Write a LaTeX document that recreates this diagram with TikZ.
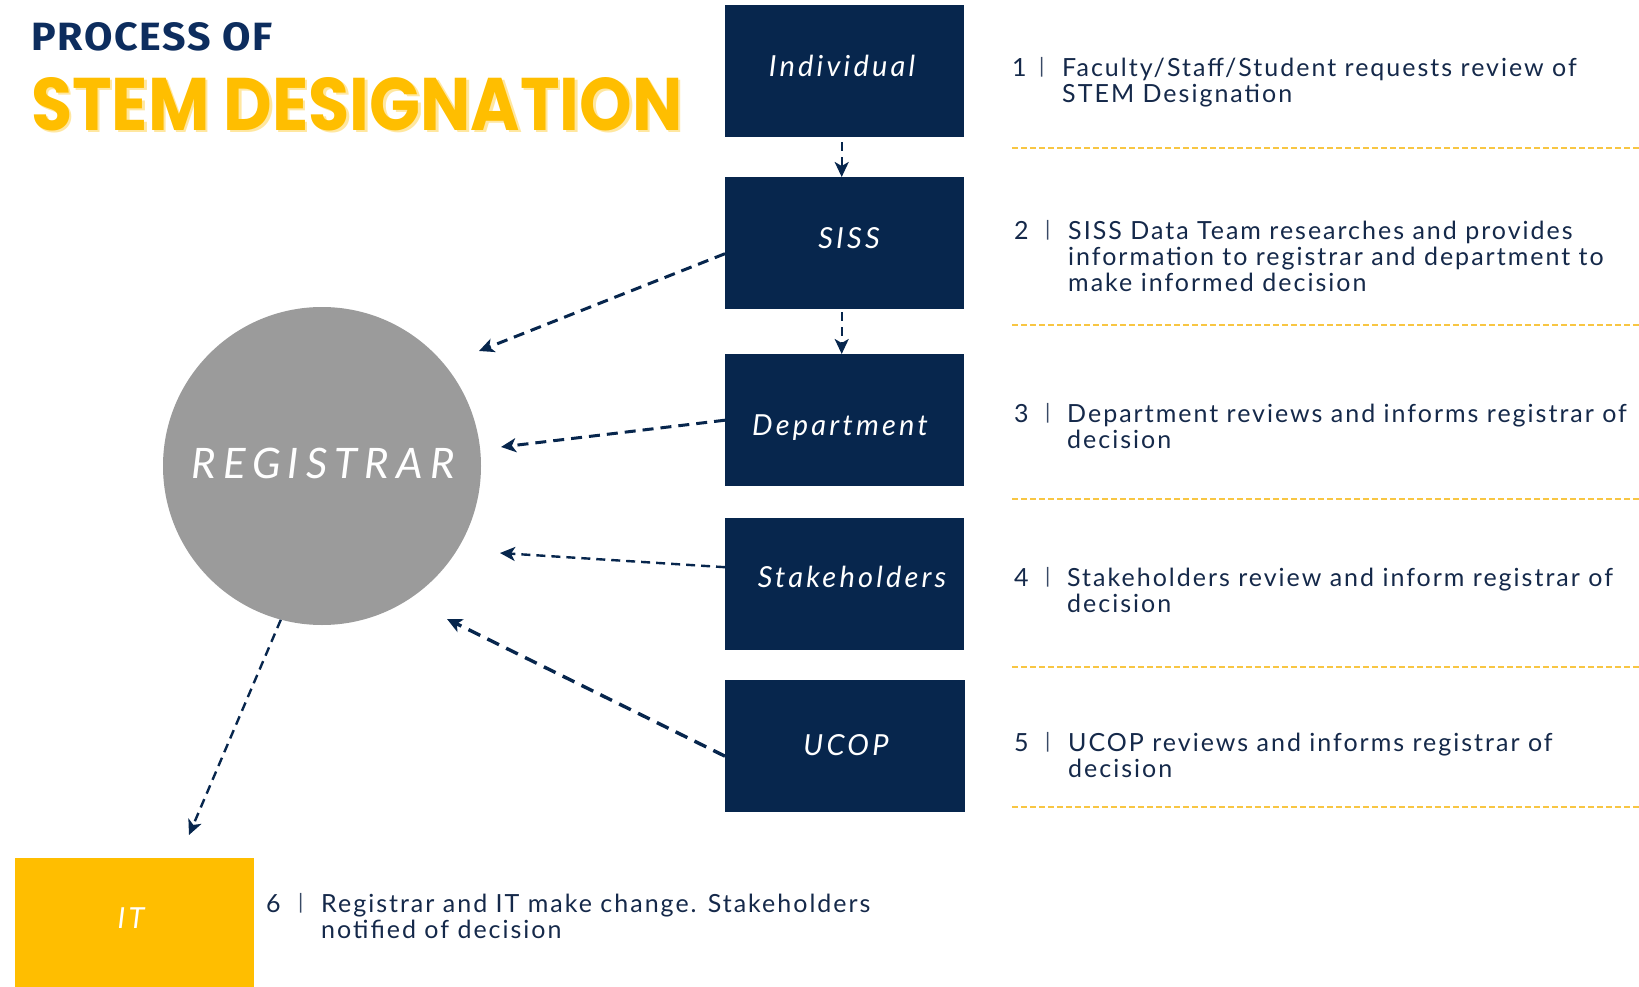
\documentclass[tikz,border=0pt]{standalone}
\usepackage{fontspec}
\usetikzlibrary{arrows.meta}
\setmainfont{Lato}
\newfontfamily\stepfont[LetterSpace=8]{Lato}
\newfontfamily\labelfont[LetterSpace=11]{Lato}
\newfontfamily\regfont[LetterSpace=17]{Lato}
\newfontfamily\headfont[LetterSpace=4]{Fira Sans}
\newfontfamily\bigtitle{Poppins}
\newcommand\steplines[1]{\vtop{#1}}

\definecolor{navy}{HTML}{07264D}
\definecolor{headnavy}{HTML}{0D2D5E}
\definecolor{stepink}{HTML}{15294A}
\definecolor{gold}{HTML}{FFBE00}
\definecolor{goldshadow}{HTML}{FFE7A0}
\definecolor{sepgold}{HTML}{F8C643}
\definecolor{regrey}{HTML}{9B9B9B}

\tikzset{
  stepbox/.style={fill=navy, minimum width=239pt, minimum height=132pt,
    inner sep=0pt, anchor=north west},
  boxlabel/.style={anchor=base, inner sep=0pt, text=white,
    font=\labelfont\itshape\fontsize{29}{29}\selectfont},
  stepnum/.style={anchor=base west, inner sep=0pt, text=stepink,
    font=\stepfont\fontsize{25}{26}\selectfont},
  stepbar/.style={anchor=base west, inner sep=0pt, text=stepink!85,
    font=\stepfont\fontsize{21}{21}\selectfont},
  steptext/.style={anchor=base west, inner sep=0pt, text=stepink,
    font=\stepfont\fontsize{25}{26}\selectfont},
  sepline/.style={draw=sepgold, line width=1.8pt, dash pattern=on 6pt off 3pt},
  flow/.style={draw=navy, line width=3pt, dash pattern=on 11pt off 7pt,
    -{Stealth[length=15pt,width=14pt,inset=4pt]}},
  flowthin/.style={flow, line width=2.4pt, dash pattern=on 9pt off 6pt},
}

\begin{document}
\begin{tikzpicture}[x=1pt,y=-1pt]
\useasboundingbox (0,0) rectangle (1639,987);
\fill[white] (0,0) rectangle (1639,987);

% heading
\node (proc) [anchor=south west, inner sep=0pt, text=headnavy] at (31,51)
  {\resizebox{241pt}{28pt}{\headfont\bfseries PROCESS OF}};
\node (stemshade) [anchor=south west, inner sep=0pt, text=goldshadow] at (33.5,133.5)
  {\resizebox{651pt}{53pt}{\bigtitle\bfseries STEM DESIGNATION}};
\node (stem) [anchor=south west, inner sep=0pt, text=gold] at (31,131)
  {\resizebox{651pt}{53pt}{\bigtitle\bfseries STEM DESIGNATION}};

% the chain of offices
\node (individual)   [stepbox] at (725,5) {};
\node (siss)         [stepbox] at (725,177) {};
\node (department)   [stepbox] at (725,354) {};
\node (stakeholders) [stepbox] at (725,518) {};
\node (ucop)         [stepbox, minimum width=240pt] at (725,680) {};
\node (it)           [stepbox, fill=gold, minimum height=129pt] at (15,858) {};

\node (lindividual)   [boxlabel] at (842,77)  {Individual};
\node (lsiss)         [boxlabel] at (849,248) {SISS};
\node (ldepartment)   [boxlabel] at (840,435) {Department};
\node (lstakeholders) [boxlabel] at (852,587) {Stakeholders};
\node (lucop)         [boxlabel] at (846,755) {UCOP};
\node (lit)           [boxlabel] at (131,928) {IT};

% registrar hub
\node (registrar) [circle, fill=regrey, minimum size=318pt, inner sep=0pt] at (322,466) {};
\node (lregistrar) [anchor=base, inner sep=0pt, text=white,
  font=\regfont\itshape\fontsize{42}{42}\selectfont] at (323,478) {REGISTRAR};

% arrow tips
\coordinate (tipsiss) at (479,351);
\coordinate (tipdept) at (501,447);
\coordinate (tipstake) at (500,553);
\coordinate (tipucop) at (447,619);
\coordinate (tipit) at (189,835);

% connectors
\draw[flowthin] ([xshift=-3pt]individual.south) ++(0,5) -- ([xshift=-3pt]siss.north);
\draw[flowthin] ([xshift=-3pt]siss.south) ++(0,3) -- ([xshift=-3pt]department.north);
\draw[flow] ([yshift=-10.5pt]siss.west) -- (tipsiss);
\draw[flow] (department.west) -- (tipdept);
\draw[flowthin] ([yshift=17pt]stakeholders.west) -- (tipstake);
\draw[flow, line width=3.4pt, dash pattern=on 13pt off 8pt] ([yshift=-10pt]ucop.west) -- (tipucop);
\draw[flowthin] (registrar.255) -- (tipit);

% step descriptions
\node (n1) [stepnum] at (1012,77) {1};
\node (b1) [stepbar] at (1039,74) {|};
\node (s1) [steptext] at (1062,77) {\steplines{\hbox{Faculty/Staff/Student requests review of}\hbox{STEM Designation}}};
\draw[sepline] (1012,148) -- (1639,148);

\node (n2) [stepnum] at (1014,240) {2};
\node (b2) [stepbar] at (1045,237) {|};
\node (s2) [steptext] at (1068,240) {\steplines{\hbox{SISS Data Team researches and provides}\hbox{information to registrar and department to}\hbox{make informed decision}}};
\draw[sepline] (1012,325) -- (1639,325);

\node (n3) [stepnum] at (1014,422) {3};
\node (b3) [stepbar] at (1045,419) {|};
\node (s3) [steptext] at (1067,422) {\steplines{\hbox{Department reviews and informs registrar of}\hbox{decision}}};
\draw[sepline] (1012,499) -- (1639,499);

\node (n4) [stepnum] at (1014,586) {4};
\node (b4) [stepbar] at (1045,583) {|};
\node (s4) [steptext] at (1067,586) {\steplines{\hbox{Stakeholders review and inform registrar of}\hbox{decision}}};
\draw[sepline] (1012,667) -- (1639,667);

\node (n5) [stepnum] at (1014,751) {5};
\node (b5) [stepbar] at (1045,748) {|};
\node (s5) [steptext] at (1068,751) {\steplines{\hbox{UCOP reviews and informs registrar of}\hbox{decision}}};
\draw[sepline] (1012,807) -- (1639,807);

\node (n6) [stepnum] at (266,912) {6};
\node (b6) [stepbar] at (298,909) {|};
\node (s6) [steptext] at (321,912) {\steplines{\hbox{Registrar and IT make change. Stakeholders}\hbox{notified of decision}}};
\end{tikzpicture}
\end{document}
